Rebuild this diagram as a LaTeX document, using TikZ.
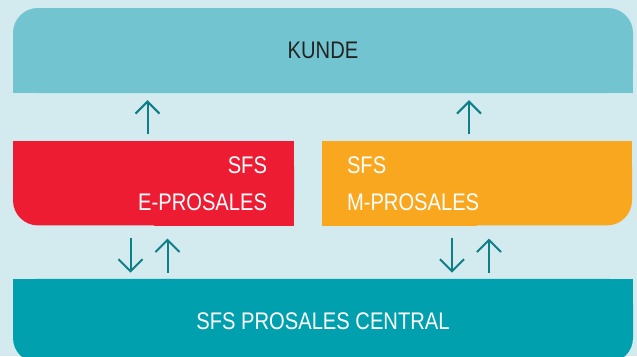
\documentclass[tikz,border=0pt]{standalone}
\usepackage{fontspec}
\setmainfont[FakeStretch=0.84]{Liberation Sans}
\usetikzlibrary{arrows.meta, positioning, backgrounds}
\definecolor{pagebg}{RGB}{211,234,238}
\definecolor{kundeblue}{RGB}{114,197,208}
\definecolor{eprored}{RGB}{238,28,51}
\definecolor{mproorange}{RGB}{249,167,31}
\definecolor{centralteal}{RGB}{0,160,174}
\definecolor{flowteal}{RGB}{14,126,135}
\definecolor{inkdark}{RGB}{35,35,35}

\begin{document}
\begin{tikzpicture}[x=1pt, y=-1pt,
  panel/.style={rectangle, rounded corners=25pt, inner sep=0pt,
                font=\fontsize{24}{37}\selectfont, text=white},
  flow/.style={-{Straight Barb[length=12pt, width=24pt]}, flowteal, line width=2pt}
]
\useasboundingbox (0,0) rectangle (637,356);
\clip (0,0) rectangle (637,356);

\node[panel, fill=kundeblue, text=inkdark, minimum width=620pt, minimum height=85pt] (kunde) at (323,50.5) {KUNDE};
\node[panel, fill=eprored, minimum width=281pt, minimum height=84pt, text width=227pt, align=right,
      below right=48pt and 0pt of kunde.south west] (epro) {SFS\\E-PROSALES};
\node[panel, fill=mproorange, minimum width=310pt, minimum height=84pt, text width=260pt, align=left,
      below left=48pt and 1pt of kunde.south east] (mpro) {SFS\\M-PROSALES};
\node[panel, fill=centralteal, minimum width=620pt, minimum height=84pt,
      below right=53pt and 0pt of epro.south west] (central) {SFS PROSALES CENTRAL};

% square off the corners that stay sharp
\begin{scope}[on background layer]
  \fill[pagebg] (0,0) rectangle (637,356);
  \fill[kundeblue] (kunde.south west) rectangle ([yshift=30pt]kunde.south east);
  \fill[eprored] (epro.north west) rectangle (epro.east);
  \fill[eprored] (epro.south east) rectangle (epro.center);
  \fill[mproorange] (mpro.north west) rectangle (mpro.east);
  \fill[mproorange] (mpro.south west) rectangle (mpro.center);
  \fill[centralteal] (central.north west) rectangle (central.east);
\end{scope}

% small mark on the left edge
\draw[white!80!gray, line width=2pt] (0,176) -- (5,176);

\draw[flow, shorten <=7pt, shorten >=7pt] ([xshift=-6pt]epro.north) -- ([xshift=-6pt]epro.north |- kunde.south);
\draw[flow, shorten <=7pt, shorten >=7pt] ([xshift=-8pt]mpro.north) -- ([xshift=-8pt]mpro.north |- kunde.south);

\draw[flow, shorten <=12pt, shorten >=6pt] ([xshift=-23pt]epro.south) -- ([xshift=-23pt]epro.south |- central.north);
\draw[flow, shorten <=6pt, shorten >=13pt] ([xshift=14pt]epro.south |- central.north) -- ([xshift=14pt]epro.south);
\draw[flow, shorten <=12pt, shorten >=6pt] ([xshift=-25pt]mpro.south) -- ([xshift=-25pt]mpro.south |- central.north);
\draw[flow, shorten <=6pt, shorten >=13pt] ([xshift=12pt]mpro.south |- central.north) -- ([xshift=12pt]mpro.south);
\end{tikzpicture}
\end{document}
